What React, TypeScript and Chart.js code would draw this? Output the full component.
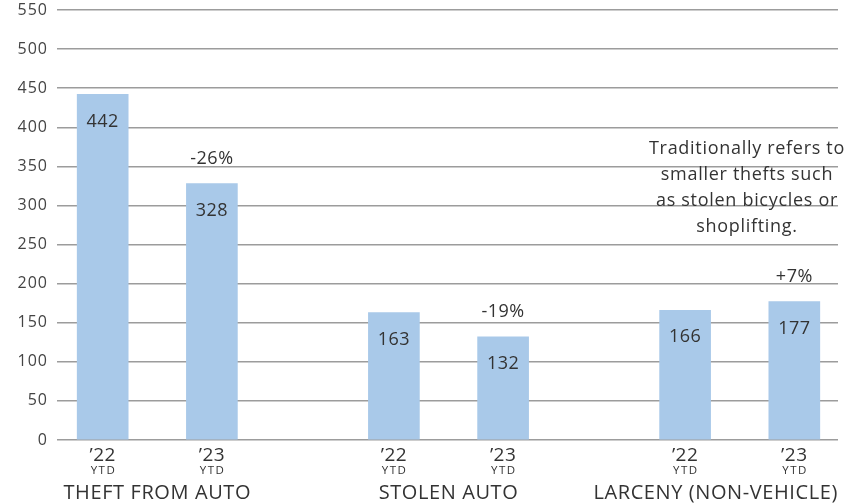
import React, { useEffect, useRef } from "react";
import { Chart, registerables } from "chart.js";

Chart.register(...registerables);

const groups = ["THEFT FROM AUTO", "STOLEN AUTO", "LARCENY (NON-VEHICLE)"];
const years = ["’22", "’23"];
const values22 = [442, 163, 166];
const values23 = [328, 132, 177];
const changes = ["-26%", "-19%", "+7%"];
const yTicks = [0, 50, 100, 150, 200, 250, 300, 350, 400, 450, 500, 550];
const noteLines = [
  "Traditionally refers to",
  "smaller thefts such",
  "as stolen bicycles or",
  "shoplifting.",
];

const FONT = "'Open Sans', Lato, sans-serif";
const BAR = "#a9c9e9";
const TEXT = "#333333";

export default function App() {
  const ref = useRef<HTMLCanvasElement | null>(null);

  useEffect(() => {
    document.body.style.margin = "0";
    const canvas = ref.current;
    if (!canvas) return;

    const points: { x: number; y: number; g: number; k: number }[] = [];
    groups.forEach((_, g) => {
      points.push({ x: g * 8, y: values22[g], g, k: 0 });
      points.push({ x: g * 8 + 3, y: values23[g], g, k: 1 });
    });

    const spacingPlugin = {
      id: "spacing",
      beforeDraw(chart: any) {
        (chart.ctx as any).letterSpacing = "1px";
      },
    };

    const labelPlugin = {
      id: "labels",
      afterDatasetsDraw(chart: any) {
        const ctx = chart.ctx as any;
        const meta = chart.getDatasetMeta(0);
        const area = chart.chartArea;
        ctx.save();
        ctx.textAlign = "center";
        ctx.textBaseline = "middle";
        ctx.fillStyle = TEXT;
        meta.data.forEach((el: any, i: number) => {
          const p = points[i];
          ctx.letterSpacing = "0.5px";
          ctx.font = `18px ${FONT}`;
          ctx.fillText(String(p.y), el.x, el.y + 27);
          if (p.k === 1) {
            ctx.fillText(changes[p.g], el.x, el.y - 25);
          }
          ctx.letterSpacing = "0.5px";
          ctx.font = `19px ${FONT}`;
          ctx.fillText(years[p.k], el.x, area.bottom + 16);
          ctx.letterSpacing = "1.5px";
          ctx.font = `11.5px ${FONT}`;
          ctx.fillText("YTD", el.x + 0.75, area.bottom + 31);
        });
        ctx.letterSpacing = "0.6px";
        ctx.font = `20px ${FONT}`;
        groups.forEach((name, g) => {
          const a = meta.data[g * 2].x;
          const b = meta.data[g * 2 + 1].x;
          let cx = (a + b) / 2;
          const w = ctx.measureText(name).width;
          if (cx + w / 2 > area.right) cx = area.right - w / 2;
          if (cx - w / 2 < area.left) cx = area.left + w / 2;
          ctx.fillText(name, cx, area.bottom + 53);
        });
        ctx.letterSpacing = "0.7px";
        ctx.font = `18px ${FONT}`;
        const yScale = chart.scales.y;
        const top = yScale.getPixelForValue(372);
        noteLines.forEach((line, i) => {
          ctx.fillText(line, 747, top + i * 26);
        });
        ctx.restore();
      },
    };

    const chart = new Chart(canvas, {
      type: "bar",
      data: {
        datasets: [
          {
            data: points.map((p) => ({ x: p.x, y: p.y })),
            backgroundColor: BAR,
            barThickness: 51,
          },
        ],
      },
      options: {
        animation: false,
        responsive: false,
        maintainAspectRatio: false,
        layout: { padding: { left: 0, right: 25, top: 10, bottom: 64 } },
        plugins: {
          legend: { display: false },
          tooltip: { enabled: false },
        },
        scales: {
          x: {
            type: "linear",
            min: -1.255,
            max: 20.2,
            offset: false,
            display: false,
          },
          y: {
            min: 0,
            max: 550,
            afterFit: (scale: any) => {
              scale.width = 57;
              scale.paddingTop = 0;
              scale.paddingBottom = 0;
            },
            afterBuildTicks: (scale: any) => {
              scale.ticks = yTicks.map((v) => ({ value: v }));
            },
            border: { display: false },
            grid: {
              color: "#9c9c9c",
              lineWidth: 1.5,
              drawTicks: false,
            },
            ticks: {
              padding: 9,
              color: "#444444",
              font: { family: FONT, size: 16 },
            },
          },
        },
      },
      plugins: [spacingPlugin, labelPlugin],
    });

    return () => chart.destroy();
  }, []);

  return (
    <div style={{ width: 863, height: 504 }}>
      <canvas ref={ref} width={863} height={504} style={{ display: "block" }} />
    </div>
  );
}
